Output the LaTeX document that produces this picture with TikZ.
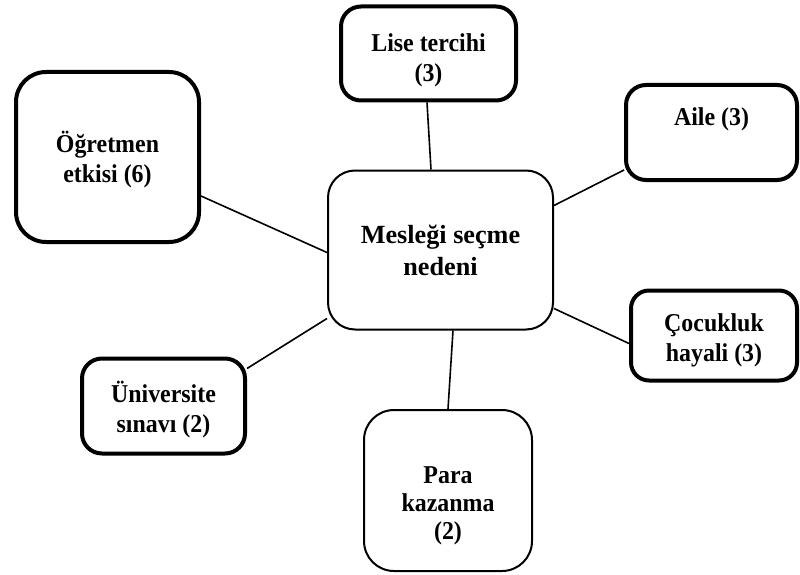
\documentclass[tikz,border=0pt]{standalone}
\usepackage{fontspec}
\setmainfont{Liberation Serif}
\newfontfamily\narrowserif{Liberation Serif}[FakeStretch=0.93]
\newcommand\leaffont{\narrowserif\fontsize{25.7}{29.5}\selectfont\bfseries}
\newcommand\hubfont{\fontsize{26.2}{31.5}\selectfont\bfseries}
% centred lines, moved down by #1 without changing the box size
\newcommand\lines[2]{\raisebox{-#1}[\height][\depth]{\begin{tabular}{@{}c@{}}#2\end{tabular}}}
\tikzset{
  box/.style={draw, inner sep=0pt, rounded corners=#1},
  hub/.style={box=27pt, line width=2pt, font=\hubfont},
  leaf/.style={box=#1, line width=4pt, font=\leaffont},
  thinleaf/.style={box=#1, line width=2pt, font=\leaffont},
  link/.style={line width=1.6pt},
}
\begin{document}
\begin{tikzpicture}[x=1pt,y=-1pt]
\useasboundingbox[fill=white] (0,0) rectangle (800,575);

% central topic
\node[hub, minimum width=225pt, minimum height=159pt] (ctr) at (440.5,250)
  {\lines{3pt}{Mesleği seçme\\nedeni}};

% surrounding reasons
\node[leaf=20pt, minimum width=175pt, minimum height=94pt] (lise) at (428.5,53.5)
  {\lines{7pt}{Lise tercihi\\(3)}};
\node[leaf=30pt, minimum width=183pt, minimum height=170pt] (ogr) at (107.5,157)
  {\lines{4pt}{Öğretmen\\etkisi (6)}};
\node[leaf=20pt, minimum width=171pt, minimum height=95pt] (aile) at (711.5,132.5)
  {\lines{2pt}{Aile (3)\\ \mbox{}}};
\node[leaf=18pt, minimum width=166pt, minimum height=90pt] (cocuk) at (714,335.5)
  {\lines{5pt}{Çocukluk\\hayali (3)}};
\node[leaf=20pt, minimum width=163pt, minimum height=95pt] (uni) at (163.5,406)
  {\lines{5pt}{Üniversite\\sınavı (2)}};
\node[thinleaf=30pt, minimum width=168pt, minimum height=161pt] (para) at (448,490.5)
  {\lines{15pt}{Para\\[-1.5pt]kazanma\\[-1.5pt](2)}};

% connectors
\draw[link] ([xshift=-1.5pt]lise.south) -- ([xshift=-9.5pt]ctr.north);
\draw[link] ([yshift=-39pt]ogr.east) -- ([yshift=-2.5pt]ctr.west);
\draw[link] ([yshift=-37.5pt]aile.west) -- ([yshift=44.5pt]ctr.east);
\draw[link] ([yshift=-8pt]cocuk.west) -- ([yshift=-58.5pt]ctr.east);
\draw[link] ([yshift=37.5pt]uni.east) -- ([yshift=-68.5pt]ctr.west);
\draw[link] (para.north) -- ([xshift=12.5pt]ctr.south);
\end{tikzpicture}
\end{document}
